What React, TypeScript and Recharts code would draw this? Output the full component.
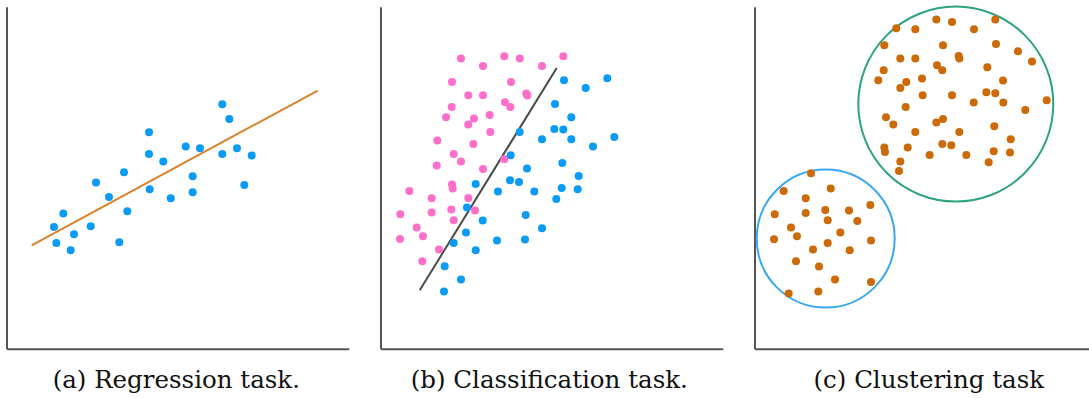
import React from 'react';
import {
  ScatterChart,
  Scatter,
  XAxis,
  YAxis,
  ReferenceLine,
} from 'recharts';

// ---- (a) Regression: observations and fitted line ----
const regressionPoints = [
  { x: 47, y: 122.3 }, { x: 56.3, y: 135.7 }, { x: 49.3, y: 106.3 }, { x: 63.7, y: 99 },
  { x: 67, y: 115 }, { x: 83.7, y: 123 }, { x: 89, y: 166.7 }, { x: 102, y: 152.3 },
  { x: 112.3, y: 107 }, { x: 120.3, y: 138 }, { x: 117, y: 177 }, { x: 142, y: 217 },
  { x: 142, y: 195.3 }, { x: 142.7, y: 160 }, { x: 156.3, y: 187.7 }, { x: 163.7, y: 151 },
  { x: 178.7, y: 202.7 }, { x: 193, y: 201 }, { x: 185.7, y: 173 }, { x: 185.7, y: 157 },
  { x: 215.3, y: 245 }, { x: 222.3, y: 230.3 }, { x: 215.3, y: 195.3 }, { x: 230, y: 201 },
  { x: 244.7, y: 193.7 }, { x: 237.3, y: 164.3 },
];
const regressionLine = [
  { x: 24.7, y: 104 },
  { x: 310.7, y: 258.7 },
];

// ---- (b) Classification: two classes and the separating boundary ----
const classA = [
  { x: 80, y: 290.7 }, { x: 102, y: 283.3 }, { x: 123.3, y: 293 }, { x: 138.7, y: 290.7 },
  { x: 161, y: 283.3 }, { x: 182.3, y: 293 }, { x: 71, y: 267.3 }, { x: 130, y: 267.3 },
  { x: 87.3, y: 254 }, { x: 102, y: 254 }, { x: 145.3, y: 255.7 }, { x: 146.3, y: 253.7 },
  { x: 70.7, y: 242.3 }, { x: 124, y: 247 }, { x: 129.3, y: 242.3 }, { x: 65, y: 232 },
  { x: 93, y: 230.7 }, { x: 108.7, y: 234.3 }, { x: 87.3, y: 224.7 }, { x: 109.3, y: 217.3 },
  { x: 56.3, y: 208.7 }, { x: 92.3, y: 205.3 }, { x: 72.7, y: 195.3 }, { x: 80, y: 187.7 },
  { x: 55.7, y: 183.7 }, { x: 102, y: 180.3 }, { x: 123.3, y: 190 }, { x: 28.3, y: 158.3 },
  { x: 71, y: 164.7 }, { x: 71.7, y: 160.7 }, { x: 50.7, y: 151 }, { x: 87.3, y: 151.3 },
  { x: 50.7, y: 136.7 }, { x: 70.3, y: 139.7 }, { x: 94, y: 138.7 }, { x: 19.3, y: 135 },
  { x: 72.7, y: 129 }, { x: 35.7, y: 121.7 }, { x: 42, y: 113 }, { x: 19, y: 110.3 },
  { x: 58, y: 99.7 }, { x: 41.3, y: 88 },
];
const classB = [
  { x: 183, y: 269 }, { x: 204.7, y: 261.3 }, { x: 226.3, y: 271 }, { x: 174, y: 245.3 },
  { x: 190.3, y: 232 }, { x: 138.7, y: 217.3 }, { x: 173.3, y: 220.3 }, { x: 182.3, y: 219.7 },
  { x: 161, y: 210 }, { x: 190.3, y: 210 }, { x: 233.3, y: 212.3 }, { x: 212, y: 202.7 },
  { x: 129.7, y: 194 }, { x: 181.3, y: 186.3 }, { x: 146, y: 180.7 }, { x: 197.7, y: 173.3 },
  { x: 94.7, y: 165.3 }, { x: 129, y: 169 }, { x: 138, y: 167.3 }, { x: 117, y: 157.7 },
  { x: 153.3, y: 157.7 }, { x: 180.7, y: 161.3 }, { x: 196.7, y: 160 }, { x: 175.3, y: 150.3 },
  { x: 86, y: 141.7 }, { x: 101.7, y: 128.7 }, { x: 144.7, y: 134.3 }, { x: 85, y: 116.7 },
  { x: 161, y: 121 }, { x: 72.7, y: 106.3 }, { x: 116, y: 108.7 }, { x: 144, y: 109.7 },
  { x: 94.7, y: 99 }, { x: 63.7, y: 83 }, { x: 80, y: 69.7 }, { x: 63, y: 57.7 },
];
const boundaryLine = [
  { x: 38.7, y: 59 },
  { x: 175.7, y: 281.3 },
];

// ---- (c) Clustering: unlabeled points and the two cluster outlines ----
const clusterPoints = [
  { x: 141.3, y: 321 }, { x: 160.3, y: 320 }, { x: 181.3, y: 329.7 }, { x: 197, y: 327.3 },
  { x: 219, y: 320 }, { x: 240.3, y: 329.7 }, { x: 129.3, y: 304 }, { x: 188, y: 304 },
  { x: 241, y: 305.3 }, { x: 263, y: 298 }, { x: 277, y: 287.7 }, { x: 145.3, y: 290.7 },
  { x: 160.3, y: 290.7 }, { x: 203.7, y: 293.3 }, { x: 204.3, y: 290.7 }, { x: 128.7, y: 279 },
  { x: 182, y: 284 }, { x: 187.3, y: 279 }, { x: 232.3, y: 282 }, { x: 123.3, y: 269 },
  { x: 151.3, y: 267.3 }, { x: 167, y: 270.7 }, { x: 145.3, y: 261.3 }, { x: 248, y: 268.7 },
  { x: 167.7, y: 254 }, { x: 197, y: 254 }, { x: 231.3, y: 257 }, { x: 240.3, y: 256 },
  { x: 218.7, y: 246.7 }, { x: 248.3, y: 246.7 }, { x: 291.7, y: 249 }, { x: 150.7, y: 242.3 },
  { x: 270.3, y: 239.3 }, { x: 131, y: 232 }, { x: 138.3, y: 224.7 }, { x: 181.3, y: 226.7 },
  { x: 188, y: 230.3 }, { x: 239.3, y: 223 }, { x: 160.3, y: 217.3 }, { x: 204.3, y: 217.3 },
  { x: 255.7, y: 210 }, { x: 129.3, y: 201.7 }, { x: 130, y: 197.3 }, { x: 152.7, y: 201.7 },
  { x: 187.3, y: 205.3 }, { x: 196.3, y: 204 }, { x: 238.7, y: 198 }, { x: 255, y: 196.7 },
  { x: 174.7, y: 194.3 }, { x: 211.3, y: 194.3 }, { x: 145.3, y: 187.7 }, { x: 233.7, y: 187 },
  { x: 144, y: 178.3 },
  { x: 56, y: 176 }, { x: 28.7, y: 158.3 }, { x: 75.7, y: 160.7 }, { x: 50.7, y: 151 },
  { x: 115.3, y: 144.3 }, { x: 19.7, y: 135 }, { x: 50.7, y: 136.3 }, { x: 70.3, y: 139.3 },
  { x: 94, y: 138.7 }, { x: 72.7, y: 129 }, { x: 102.3, y: 128.3 }, { x: 36, y: 121.7 },
  { x: 42, y: 113 }, { x: 85.3, y: 116.7 }, { x: 19, y: 110 }, { x: 72.7, y: 106.3 },
  { x: 116, y: 108.7 }, { x: 58, y: 99.7 }, { x: 94.7, y: 99 }, { x: 41, y: 88 },
  { x: 64, y: 82.7 }, { x: 80, y: 69.7 }, { x: 116, y: 67.3 }, { x: 33.7, y: 55.7 },
  { x: 63.3, y: 57.7 },
];
const clusterOutlines = [
  { x: 200.8, y: 245.2, r: 97.5, color: '#2ea37c' },
  { x: 70.7, y: 110.7, r: 69, color: '#38a9f2' },
];

const captions = ['(a) Regression task.', '(b) Classification task.', '(c) Clustering task'];

const AXIS_COLOR = '#555555';
const BLUE = '#0a9bf6';
const PINK = '#ff6ec8';
const ORANGE_DOT = '#cc6a08';

type PanelProps = {
  left: number;
  width: number;
  plotLeft: number;
  plotWidth: number;
  domainX: number;
  children: React.ReactNode;
};

const PANEL_HEIGHT = 360;
const PLOT_TOP = 7.3;
const PLOT_HEIGHT = 342;
const DOMAIN_Y = 342;

function Panel({ left, width, plotLeft, plotWidth, domainX, children }: PanelProps) {
  return (
    <div style={{ position: 'absolute', left, top: 0 }}>
      <ScatterChart
        width={width}
        height={PANEL_HEIGHT}
        margin={{
          top: PLOT_TOP,
          left: plotLeft,
          right: width - plotLeft - plotWidth,
          bottom: PANEL_HEIGHT - PLOT_TOP - PLOT_HEIGHT,
        }}
      >
        <XAxis type="number" dataKey="x" domain={[0, domainX]} hide />
        <YAxis type="number" dataKey="y" domain={[0, DOMAIN_Y]} hide />
        {/* L-shaped frame: left spine and bottom spine */}
        <ReferenceLine x={0} stroke={AXIS_COLOR} strokeWidth={2} ifOverflow="visible" />
        <ReferenceLine y={0} stroke={AXIS_COLOR} strokeWidth={2} ifOverflow="visible" />
        {children}
      </ScatterChart>
    </div>
  );
}

const dot = (fill: string) => (props: any) => (
  <circle cx={props.cx} cy={props.cy} r={4} fill={fill} />
);

export default function App() {
  // pixels per data unit in the clustering panel (domain width equals plot width)
  const pxPerUnit = 334 / 334;
  const outline = (props: any) => (
    <circle
      cx={props.cx}
      cy={props.cy}
      r={props.payload.r * pxPerUnit}
      fill="none"
      stroke={props.payload.color}
      strokeWidth={2}
    />
  );

  const captionCenters = [176.3, 549.3, 928.8];

  return (
    <div
      style={{
        position: 'absolute',
        left: 0,
        top: 0,
        width: 1089,
        height: 398,
        background: '#ffffff',
        overflow: 'hidden',
      }}
    >
      <Panel left={0} width={360} plotLeft={7} plotWidth={342.3} domainX={342.3}>
        <ReferenceLine
          segment={regressionLine}
          stroke="#d9822b"
          strokeWidth={2}
          ifOverflow="visible"
        />
        <Scatter data={regressionPoints} shape={dot(BLUE)} isAnimationActive={false} />
      </Panel>

      <Panel left={375} width={360} plotLeft={6} plotWidth={342.3} domainX={342.3}>
        <Scatter data={classA} shape={dot(PINK)} isAnimationActive={false} />
        <Scatter data={classB} shape={dot(BLUE)} isAnimationActive={false} />
        <ReferenceLine
          segment={boundaryLine}
          stroke="#4a4a4a"
          strokeWidth={2}
          ifOverflow="visible"
        />
      </Panel>

      <Panel left={745} width={344} plotLeft={10} plotWidth={334} domainX={334}>
        <Scatter data={clusterOutlines} shape={outline} isAnimationActive={false} />
        <Scatter data={clusterPoints} shape={dot(ORANGE_DOT)} isAnimationActive={false} />
      </Panel>

      {captions.map((c, i) => (
        <div
          key={c}
          style={{
            position: 'absolute',
            left: captionCenters[i] - 200,
            width: 400,
            top: 364.5,
            textAlign: 'center',
            fontFamily: '"DejaVu Serif", serif',
            fontSize: 24.5,
            lineHeight: '30px',
            color: '#111111',
          }}
        >
          {c}
        </div>
      ))}
    </div>
  );
}
